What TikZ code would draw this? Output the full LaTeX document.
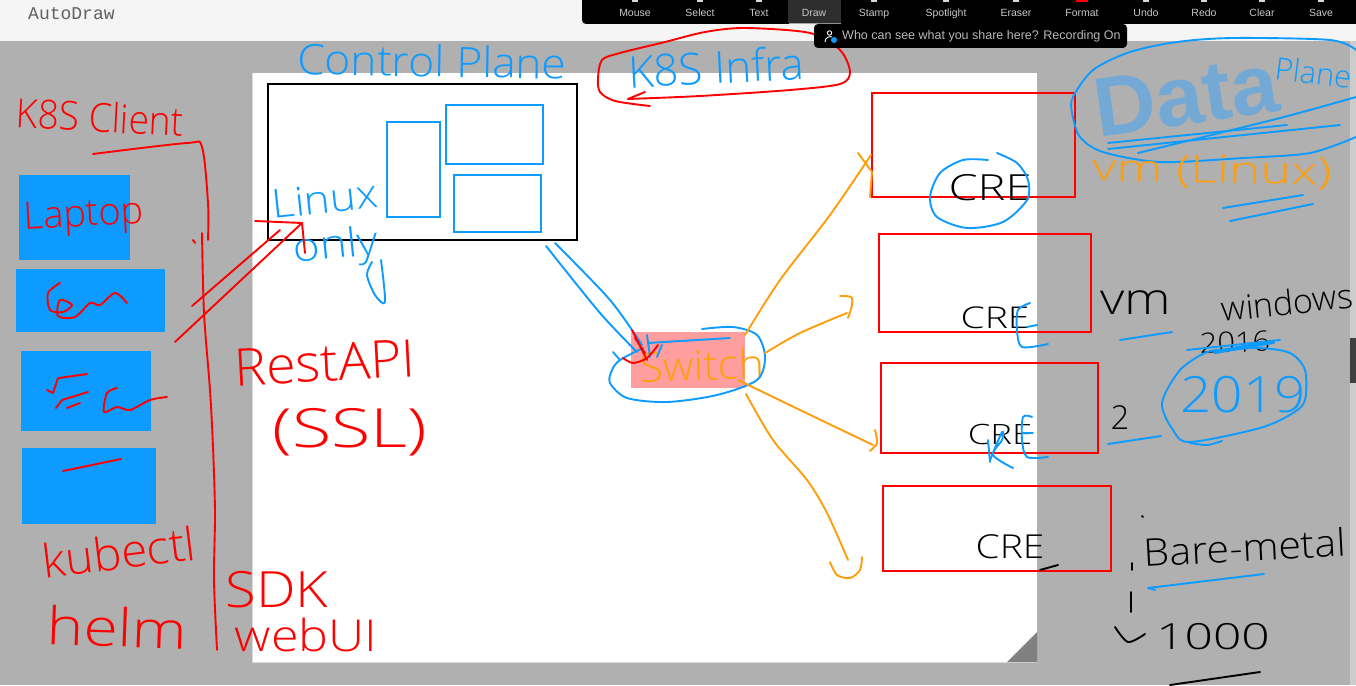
\documentclass[tikz,border=0pt]{standalone}
\usepackage{fontspec}
\setmainfont{Liberation Sans}
\newfontfamily\handfont{Open Sans}[UprightFont=* Light]
\newfontfamily\monofont{Liberation Mono}
\definecolor{penblue}{HTML}{0E9BFF}
\definecolor{penred}{HTML}{FF0000}
\definecolor{penorange}{HTML}{FF9E0C}
\definecolor{paneltone}{HTML}{B0B0B0}
\definecolor{dataink}{HTML}{74A9D6}
\tikzset{
    bluepen/.style={draw=penblue,line width=1.9pt,line cap=round,line join=round},
    redpen/.style={draw=penred,line width=1.9pt,line cap=round,line join=round},
    orangepen/.style={draw=penorange,line width=1.9pt,line cap=round,line join=round},
    blackpen/.style={draw=black,line width=1.9pt,line cap=round,line join=round},
    hand/.style={font=\handfont\fontsize{#1}{#1}\selectfont,inner sep=0pt},
    bluebox/.style={draw=penblue,line width=2pt,inner sep=0pt},
    redbox/.style={draw=penred,line width=2pt,inner sep=0pt},
    clientbox/.style={fill=penblue,inner sep=0pt},
    barlabel/.style={text=white!78!black,font=\fontsize{10.5}{10.5}\selectfont,inner sep=0pt,anchor=base},
}
\begin{document}
\begin{tikzpicture}[x=1pt,y=-1pt]
    \useasboundingbox (0,0) rectangle (1356,685);
    % window and whiteboard
    \fill[white!96!black] (0,0) rectangle (1356,41);
    \fill[paneltone] (0,41) rectangle (1356,685);
    \fill[white!80!black] (1350,41) rectangle (1356,685);
    \fill[black!75] (1350,338) rectangle (1356,383);
    \fill[white!85!black] (252,73) rectangle (1037,663);
    \fill[white] (253,73) rectangle (1037,662);
    \fill[black!50] (1007,662) -- (1037,662) -- (1037,632) -- cycle;
    \node[text=black!62,font=\monofont\fontsize{18}{18}\selectfont,anchor=west,inner sep=0pt] (appname) at (28,14) {AutoDraw};

    % control plane
    \node[draw=black,line width=2pt,minimum width=309pt,minimum height=156pt,inner sep=0pt] (cplane) at (422.5,162) {};
    \node[bluebox,minimum width=53pt,minimum height=95pt] (cpa) at (413.5,169.5) {};
    \node[bluebox,minimum width=97pt,minimum height=59pt] (cpb) at (494.5,134.5) {};
    \node[bluebox,minimum width=87pt,minimum height=57pt] (cpc) at (497.5,203.5) {};
    \node[hand=42,text=penblue,rotate=-1,xscale=1.06] (cptitle) at (432,61) {Control Plane};
    \node[hand=40,text=penblue,rotate=6,xscale=1.1] (linuxlabel) at (325,199) {Linux};
    \node[hand=40,text=penblue,rotate=6,xscale=1.15] (onlylabel) at (336,248) {only};
    \draw[bluepen] plot[smooth] coordinates {(372,262) (367,275) (375,295) (385,302) (381,260)};

    % k8s infra
    \node[hand=44,text=penblue,rotate=3] (infralabel) at (716,67) {K8S Infra};
    \draw[redpen] plot[smooth] coordinates {(650,106) (615,101) (600,92) (598,78) (602,60) (620,53) (665,42) (705,32) (745,28) (810,33) (840,50) (850,72) (840,84) (790,90) (700,96) (628,99)};
    \draw[redpen] (628,99) -- (645,92);

    % clients
    \node[clientbox,minimum width=111pt,minimum height=85pt] (laptop) at (74.5,217.5) {};
    \node[clientbox,minimum width=149pt,minimum height=63pt] (cdm) at (90.5,300.5) {};
    \node[clientbox,minimum width=130pt,minimum height=80pt] (fca) at (86,391) {};
    \node[clientbox,minimum width=134pt,minimum height=76pt] (blank) at (89,486) {};
    \node[hand=40,text=penred,rotate=-3,xscale=.93] (clientlabel) at (100,117) {K8S Client};
    \node[hand=38,text=penred,rotate=3] (laptoplabel) at (84,217) {Laptop};
    \draw[redpen] plot[smooth] coordinates {(60,283) (48,293) (50,310) (63,312) (72,305) (60,300) (58,316) (75,317) (90,303) (100,305) (115,293) (127,303)};
    \draw[redpen] plot[smooth] coordinates {(59,378) (87,374)};
    \draw[redpen] (47,390) -- (53,393) -- (58,378);
    \draw[redpen] (56,408) -- (62,400) -- (88,392);
    \draw[redpen] (67,408) -- (80,403);
    \draw[redpen] plot[smooth] coordinates {(117,388) (107,393) (104,412) (117,407) (130,410) (150,400) (167,397)};
    \draw[redpen] (63,471) -- (121,459);
    \node[hand=46,text=penred,rotate=7,xscale=1.03] (kubelabel) at (119,552) {kubectl};
    \node[hand=52,text=penred,rotate=-2,xscale=1.2] (helmlabel) at (117,627) {helm};

    % client bracket and rest arrow
    \coordinate (brackettop) at (93,154);
    \coordinate (bracketend) at (217,650);
    \draw[redpen] plot[smooth,tension=.5] coordinates {(brackettop) (187,143) (202,147) (208,203) (208,240)};
    \draw[redpen] (193,240) -- (195,243);
    \draw[redpen] plot[smooth,tension=.5] coordinates {(202,233) (204,313) (210,390) (213,447) (215,513) (214,580) (bracketend)};
    \coordinate (restfrom) at (192,306);
    \coordinate (restfromb) at (175,342);
    \coordinate (restto) at (280,230);
    \coordinate (resttip) at (302,223);
    \draw[redpen] (restfrom) -- (restto);
    \draw[redpen] (restfromb) -- (resttip);
    \draw[redpen] (255,221) -- (resttip) -- (305,253);
    \node[hand=52,text=penred,rotate=3,xscale=1.03] (restlabel) at (325,363) {RestAPI};
    \node[hand=54,text=penred,xscale=1.33] (ssllabel) at (350,432) {(SSL)};
    \node[hand=50,text=penred,xscale=1.12] (sdklabel) at (277,590) {SDK};
    \node[hand=44,text=penred,xscale=1.14] (webuilabel) at (306,635) {webUI};

    % workers
    \node[redbox,minimum width=203pt,minimum height=104pt] (worker1) at (973.5,145) {};
    \node[redbox,minimum width=212pt,minimum height=98pt] (worker2) at (985,283) {};
    \node[redbox,minimum width=217pt,minimum height=90pt] (worker3) at (989.5,408) {};
    \node[redbox,minimum width=228pt,minimum height=85pt] (worker4) at (997,528.5) {};
    \node[hand=36,text=black,xscale=1.3] (cre1) at (990,188) {CRE};
    \node[hand=30,text=black,xscale=1.3] (cre2) at (995,318) {CRE};
    \node[hand=28,text=black,xscale=1.3] (cre3) at (1000,434) {CRE};
    \node[hand=33,text=black,xscale=1.18] (cre4) at (1010,547) {CRE};
    \draw[bluepen] plot[smooth] coordinates {(988,160) (963,160) (940,173) (930,197) (937,217) (967,228) (1003,222) (1027,200) (1028,180) (1017,163) (997,153)};
    \draw[bluepen] plot[smooth] coordinates {(1030,303) (1018,310) (1017,330) (1022,347) (1048,344)};
    \draw[bluepen] (1037,325) -- (1027,327);
    \draw[bluepen] plot[smooth] coordinates {(988,440) (990,462)};
    \draw[bluepen] plot[smooth] coordinates {(990,460) (1002,432) (1002,440) (993,455) (1013,468)};
    \draw[bluepen] plot[smooth] coordinates {(1032,417) (1023,417) (1022,440) (1027,457) (1048,457)};
    \draw[bluepen] (1033,433) -- (1023,433);
    \draw[blackpen] (1040,570) -- (1058,565);

    % switch and its links
    \node[fill=penred!38,minimum width=114pt,minimum height=56pt,inner sep=0pt] (switch) at (688,360) {};
    \node[hand=41,text=penorange,rotate=2,xscale=1.05] (switchlabel) at (702,365) {Switch};
    \draw[bluepen] plot[smooth] coordinates {(702,329) (733,327) (757,335) (765,357) (757,380) (717,395) (667,402) (627,398) (610,383) (612,370) (620,360) (643,348)};
    \draw[bluepen] (613,352) -- (620,360);
    \draw[bluepen] (648,343) -- (730,338);
    \coordinate (cpout) at (546,246);
    \coordinate (cpoutb) at (555,243);
    \coordinate (swin) at (637,352);
    \coordinate (swinb) at (642,345);
    \draw[bluepen] plot[smooth] coordinates {(cpout) (600,313) (swin)};
    \draw[bluepen] plot[smooth] coordinates {(cpoutb) (610,300) (swinb)};
    \draw[bluepen] (647,335) -- (650,357);
    \draw[bluepen] (657,357) -- (662,345);
    \draw[redpen] (632,330) -- (647,360);
    \draw[redpen] (635,338) -- (645,353);
    \draw[redpen] plot[smooth] coordinates {(623,358) (633,363) (647,358) (658,345)};

    \coordinate (swa) at (745,335);
    \coordinate (swb) at (765,353);
    \coordinate (swc) at (738,380);
    \coordinate (swd) at (746,394);
    \coordinate (wa) at (871,155);
    \coordinate (wb) at (847,313);
    \coordinate (wc) at (873,445);
    \coordinate (wd) at (848,560);
    \draw[orangepen] plot[smooth] coordinates {(swa) (780,280) (830,215) (wa)};
    \draw[orangepen] plot[smooth] coordinates {(swb) (800,333) (wb)};
    \draw[orangepen] plot[smooth] coordinates {(swc) (800,410) (wc)};
    \draw[orangepen] plot[smooth] coordinates {(swd) (773,440) (807,480) (827,513) (wd)};
    \draw[orangepen] (858,153) -- (872,172) -- (870,197);
    \draw[orangepen] plot[smooth] coordinates {(840,296) (851,297) (852,305) (848,318)};
    \draw[orangepen] plot[smooth] coordinates {(875,430) (877,443) (870,451)};
    \draw[orangepen] plot[smooth] coordinates {(830,562) (837,575) (850,578) (860,570) (862,557)};

    % data plane
    \node[font=\fontsize{84}{84}\selectfont\bfseries,text=dataink,inner sep=0pt,rotate=8,xscale=1.02] (datalabel) at (1186,96) {Data};
    \node[hand=31,text=penblue,rotate=-7,anchor=west] (planelabel) at (1275,68) {Plane};
    \draw[bluepen] plot[smooth] coordinates {(1356,50) (1330,40) (1233,38) (1177,42) (1130,52) (1093,70) (1073,97) (1072,113) (1080,137) (1103,152) (1160,162) (1243,158) (1310,153) (1356,137)};
    \draw[bluepen] (1108,143) -- (1287,125);
    \draw[bluepen] (1108,149) -- (1340,125);
    \draw[bluepen] plot[smooth] coordinates {(1138,153) (1280,118) (1356,97)};
    \node[hand=38,text=penorange,rotate=-1,xscale=1.38] (vmlinux) at (1212,172) {vm (Linux)};
    \draw[bluepen] (1223,208) -- (1303,195);
    \draw[bluepen] (1230,221) -- (1313,204);

    % vm windows
    \node[hand=44,text=black,xscale=1.2] (vmlabel) at (1136,303) {vm};
    \node[hand=34,text=black,rotate=6] (windowslabel) at (1287,302) {windows};
    \node[hand=28,text=black,rotate=2,xscale=1.1] (oldyear) at (1235,342) {2016};
    \draw[bluepen,line width=4pt] (1215,352) -- (1273,342);
    \draw[bluepen] (1187,350) -- (1280,340);
    \draw[bluepen] (1120,340) -- (1172,332);
    \node[hand=33,text=black] (twolabel) at (1120,418) {2};
    \draw[bluepen] (1108,444) -- (1161,436);
    \node[hand=50,text=penblue,xscale=1.1] (newyear) at (1243,395) {2019};
    \draw[bluepen] plot[smooth] coordinates {(1227,350) (1207,352) (1180,370) (1162,403) (1173,430) (1190,442) (1260,428) (1293,413) (1305,400) (1305,370) (1290,353) (1260,348) (1227,350)};
    \draw[bluepen] plot[smooth] coordinates {(1190,443) (1207,445) (1222,441)};

    % bare metal
    \node[hand=38,text=black,rotate=3,xscale=1.08] (barelabel) at (1245,547) {Bare-metal};
    \draw[bluepen] (1148,588) -- (1264,574);
    \draw[bluepen] (1148,588) -- (1155,590);
    \draw[blackpen] (1142,516) -- (1143,517);
    \draw[blackpen] (1132,563) -- (1132,570);
    \draw[blackpen] (1131,592) -- (1131,612);
    \draw[blackpen] plot[smooth] coordinates {(1115,627) (1128,642) (1145,634)};
    \node[hand=36,text=black,xscale=1.38] (countlabel) at (1213,637) {1000};
    \draw[blackpen] (1170,685) -- (1260,672);

    % meeting toolbar
    \fill[black,rounded corners=4pt] (582,-6) rectangle (1362,24);
    \fill[white!18!black] (788,-2) rectangle (841,23);
    \draw[white!65!black,line width=.8pt] (789,23) -- (841,23);
    \fill[black,rounded corners=4pt] (814,24) rectangle (1127,48);
    \foreach \barname/\barx in {Mouse/635,Select/700,Text/759,Draw/814,Stamp/874,Spotlight/946,Eraser/1016,Format/1082,Undo/1146,Redo/1204,Clear/1262,Save/1321}
        \node[barlabel] (bar\barname) at (\barx,17) {\barname};
    \foreach \barx in {635,700,759,874,946,1016,1146,1204,1262,1321}
        \fill[white!85!black] (\barx-3,0) rectangle (\barx+3,2);
    \fill[penred] (1076,0) rectangle (1088,2.5);
    \node[text=white!72!black,font=\fontsize{12.5}{12.5}\selectfont,anchor=west,inner sep=0pt] (sharenote) at (842,36.5) {Who can see what you share here? Recording On};
    \draw[white,line width=.9pt] (829.5,33) circle (2.2);
    \draw[white,line width=.9pt] (825,42) .. controls (825,37) and (830,36) .. (832,37);
    \fill[penblue] (834,40) circle (3);
\end{tikzpicture}
\end{document}
